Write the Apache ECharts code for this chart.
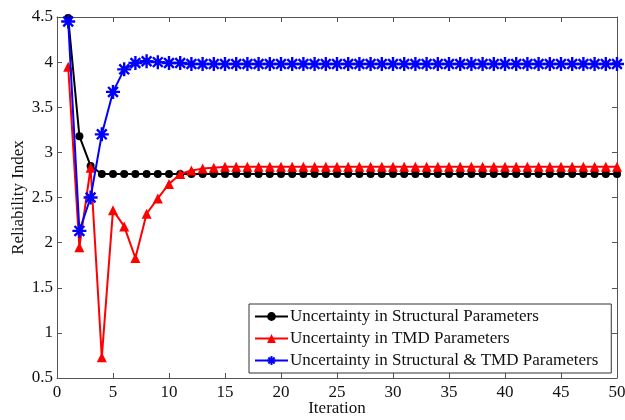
<!DOCTYPE html>
<html>
<head>
<meta charset="utf-8">
<script src="https://cdn.jsdelivr.net/npm/echarts@6/dist/echarts.min.js"></script>
<style>
  html, body { margin: 0; padding: 0; background: #fff; }
  #chart { width: 625px; height: 420px; }
</style>
</head>
<body>
<div id="chart"></div>
<script>
const iterations = [
  1, 2, 3, 4, 5, 6, 7, 8, 9, 10, 11, 12, 13, 14, 15, 16, 17, 18, 19, 20, 21, 22, 23, 24, 25,
  26, 27, 28, 29, 30, 31, 32, 33, 34, 35, 36, 37, 38, 39, 40, 41, 42, 43, 44, 45, 46, 47, 48, 49, 50
]
const structural = [
  4.49, 3.18, 2.85, 2.76, 2.76, 2.76, 2.76, 2.76, 2.76, 2.76, 2.76, 2.76, 2.76, 2.76, 2.76, 2.76, 2.76,
  2.76, 2.76, 2.76, 2.76, 2.76, 2.76, 2.76, 2.76, 2.76, 2.76, 2.76, 2.76, 2.76, 2.76, 2.76, 2.76, 2.76,
  2.76, 2.76, 2.76, 2.76, 2.76, 2.76, 2.76, 2.76, 2.76, 2.76, 2.76, 2.76, 2.76, 2.76, 2.76, 2.76
]
const tmd = [
  3.95, 1.95, 2.83, 0.73, 2.36, 2.18, 1.83, 2.32, 2.49, 2.65, 2.76, 2.80, 2.82, 2.83, 2.84, 2.84, 2.84,
  2.84, 2.84, 2.84, 2.84, 2.84, 2.84, 2.84, 2.84, 2.84, 2.84, 2.84, 2.84, 2.84, 2.84, 2.84, 2.84, 2.84,
  2.84, 2.84, 2.84, 2.84, 2.84, 2.84, 2.84, 2.84, 2.84, 2.84, 2.84, 2.84, 2.84, 2.84, 2.84, 2.84
]
const both = [
  4.45, 2.13, 2.50, 3.20, 3.67, 3.92, 3.99, 4.01, 4.00, 3.99, 3.99, 3.98, 3.98, 3.98, 3.98, 3.98, 3.98,
  3.98, 3.98, 3.98, 3.98, 3.98, 3.98, 3.98, 3.98, 3.98, 3.98, 3.98, 3.98, 3.98, 3.98, 3.98, 3.98, 3.98,
  3.98, 3.98, 3.98, 3.98, 3.98, 3.98, 3.98, 3.98, 3.98, 3.98, 3.98, 3.98, 3.98, 3.98, 3.98, 3.98
]
const seriesNames = [
  'Uncertainty in Structural Parameters',
  'Uncertainty in TMD Parameters',
  'Uncertainty in Structural & TMD Parameters'
]

const font = '"Liberation Serif", "Times New Roman", serif'
const axisColor = '#555'
const asterisk = 'path://M0 10L20 10M10 0L10 20M3 3L17 17M17 3L3 17'

function pairs(values) {
  return iterations.map((x, i) => [x, values[i]])
}

function frameAxis(extra) {
  return Object.assign({
    type: 'value',
    axisLine: { show: true, onZero: false, lineStyle: { color: axisColor, width: 1 } },
    axisTick: { show: true, inside: true, length: 5, lineStyle: { color: axisColor } },
    splitLine: { show: false }
  }, extra)
}

const chart = echarts.init(document.getElementById('chart'))

chart.setOption({
  animation: false,
  textStyle: { fontFamily: font },
  grid: { left: 57, right: 8, top: 17, bottom: 42, outerBoundsMode: 'none', containLabel: false },
  xAxis: [
    frameAxis({
      min: 0, max: 50, interval: 5,
      name: 'Iteration', nameLocation: 'middle', nameGap: 22, nameMoveOverlap: false,
      nameTextStyle: { fontFamily: font, fontSize: 17, color: '#111' },
      axisLabel: { fontFamily: font, fontSize: 17, color: '#111', margin: 6 }
    }),
    frameAxis({ min: 0, max: 50, interval: 5, position: 'top', axisLabel: { show: false } })
  ],
  yAxis: [
    frameAxis({
      min: 0.5, max: 4.5, interval: 0.5,
      name: 'Reliability Index', nameLocation: 'middle', nameGap: 30, nameMoveOverlap: false,
      nameTextStyle: { fontFamily: font, fontSize: 17, color: '#111' },
      axisLabel: { fontFamily: font, fontSize: 17, color: '#111', margin: 4 }
    }),
    frameAxis({ min: 0.5, max: 4.5, interval: 0.5, position: 'right', axisLabel: { show: false } })
  ],
  legend: {
    orient: 'vertical',
    left: 249,
    top: 304,
    padding: [4, 13, 4, 5],
    itemGap: 5,
    itemWidth: 33,
    itemHeight: 11,
    borderColor: '#333',
    borderWidth: 1,
    backgroundColor: '#fff',
    textStyle: { fontFamily: font, fontSize: 17, color: '#111', padding: [0, 0, 0, -3] },
    data: seriesNames
  },
  series: [
    {
      name: seriesNames[0],
      type: 'line',
      data: pairs(structural),
      symbol: 'circle',
      symbolSize: 8,
      lineStyle: { color: '#000', width: 2 },
      itemStyle: { color: '#000' },
      z: 3
    },
    {
      name: seriesNames[1],
      type: 'line',
      data: pairs(tmd),
      symbol: 'triangle',
      symbolSize: 10,
      lineStyle: { color: '#ff0000', width: 2 },
      itemStyle: { color: '#ff0000' },
      z: 4
    },
    {
      name: seriesNames[2],
      type: 'line',
      data: pairs(both),
      symbol: asterisk,
      symbolSize: 14,
      lineStyle: { color: '#0000ff', width: 2 },
      itemStyle: { color: '#0000ff', borderColor: '#0000ff', borderWidth: 2.4 },
      z: 5
    }
  ]
})
</script>
</body>
</html>
